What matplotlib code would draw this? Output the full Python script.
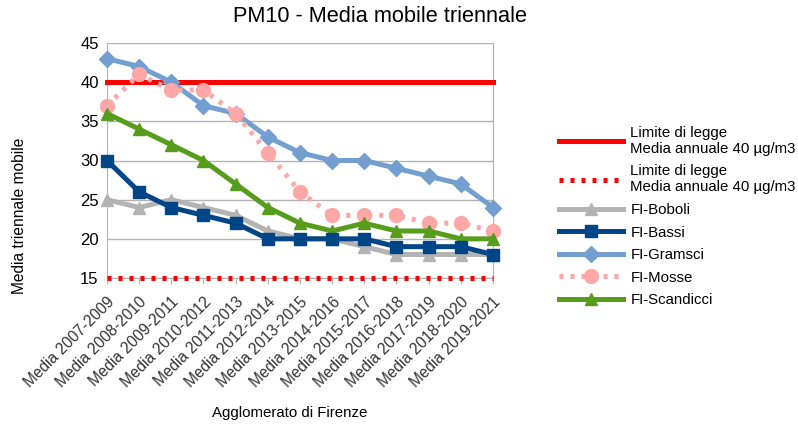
import matplotlib
matplotlib.use("Agg")
import matplotlib.pyplot as plt

plt.rcParams['font.family'] = ['Liberation Sans', 'DejaVu Sans']

periods = ["Media 2007-2009", "Media 2008-2010", "Media 2009-2011", "Media 2010-2012",
           "Media 2011-2013", "Media 2012-2014", "Media 2013-2015", "Media 2014-2016",
           "Media 2015-2017", "Media 2016-2018", "Media 2017-2019", "Media 2018-2020",
           "Media 2019-2021"]
limite_alto = 40
limite_basso = 15
boboli = [25, 24, 25, 24, 23, 21, 20, 20, 19, 18, 18, 18, 18]
bassi = [30, 26, 24, 23, 22, 20, 20, 20, 20, 19, 19, 19, 18]
gramsci = [43, 42, 40, 37, 36, 33, 31, 30, 30, 29, 28, 27, 24]
mosse = [37, 41, 39, 39, 36, 31, 26, 23, 23, 23, 22, 22, 21]
scandicci = [36, 34, 32, 30, 27, 24, 22, 21, 22, 21, 21, 20, 20]

lim_label = "Limite di legge\nMedia annuale 40 µg/m3"
dotted = (0, (0.8, 1.4))

fig = plt.figure(figsize=(7.98, 4.28), dpi=100)
ax = fig.add_axes([107/798, 1 - 278/428, (493-107)/798, (278-43)/428])

x = list(range(len(periods)))
ax.plot(x, [limite_alto]*len(x), color="#ff0000", lw=3.6, label=lim_label, zorder=3, clip_on=False)
ax.plot(x, [limite_basso]*len(x), color="#ff0000", lw=3.6, ls=dotted, label=lim_label, zorder=3, clip_on=False)
ax.plot(x, boboli, color="#b3b3b3", lw=3.6, marker="^", ms=9, label="FI-Boboli", zorder=4, clip_on=False)
ax.plot(x, bassi, color="#004586", lw=3.6, marker="s", ms=9, label="FI-Bassi", zorder=5, clip_on=False)
ax.plot(x, gramsci, color="#729fcf", lw=3.6, marker="D", ms=8, label="FI-Gramsci", zorder=4, clip_on=False)
ax.plot(x, mosse, color="#ffa6a6", lw=3.6, ls=dotted, marker="o", ms=10, label="FI-Mosse", zorder=4, clip_on=False)
ax.plot(x, scandicci, color="#579d1c", lw=3.6, marker="^", ms=9, label="FI-Scandicci", zorder=4, clip_on=False)

ax.set_xlim(0, 12)
ax.set_ylim(15, 45)
ax.set_yticks(range(15, 46, 5))
ax.set_xticks(x)
ax.set_xticklabels(periods, rotation=45, ha="right", rotation_mode="anchor", fontsize=11.2, color="#333333")
ax.tick_params(axis="y", labelsize=12, length=0, pad=6)
ax.tick_params(axis="x", length=4, color="#b3b3b3", pad=8)
ax.grid(axis="y", color="#b3b3b3", lw=1)
for s in ax.spines.values():
    s.set_color("#b3b3b3")
ax.spines["top"].set_visible(False)

fig.text(380/798, 1 - 17/428, "PM10 - Media mobile triennale", ha="center", va="center", fontsize=15.7)
fig.text(290/798, 1 - 413/428, "Agglomerato di Firenze", ha="center", va="center", fontsize=10.8)
fig.text(20/798, 1 - 216/428, "Media triennale mobile", rotation=90, ha="center", va="center", fontsize=11.2)

ax.legend(loc="upper left", bbox_to_anchor=(545/798, 1 - 112/428), bbox_transform=fig.transFigure,
          frameon=False, fontsize=10.8, handlelength=4.3, labelspacing=0.57, handletextpad=0.5)

fig.savefig("out.png", dpi=100)
